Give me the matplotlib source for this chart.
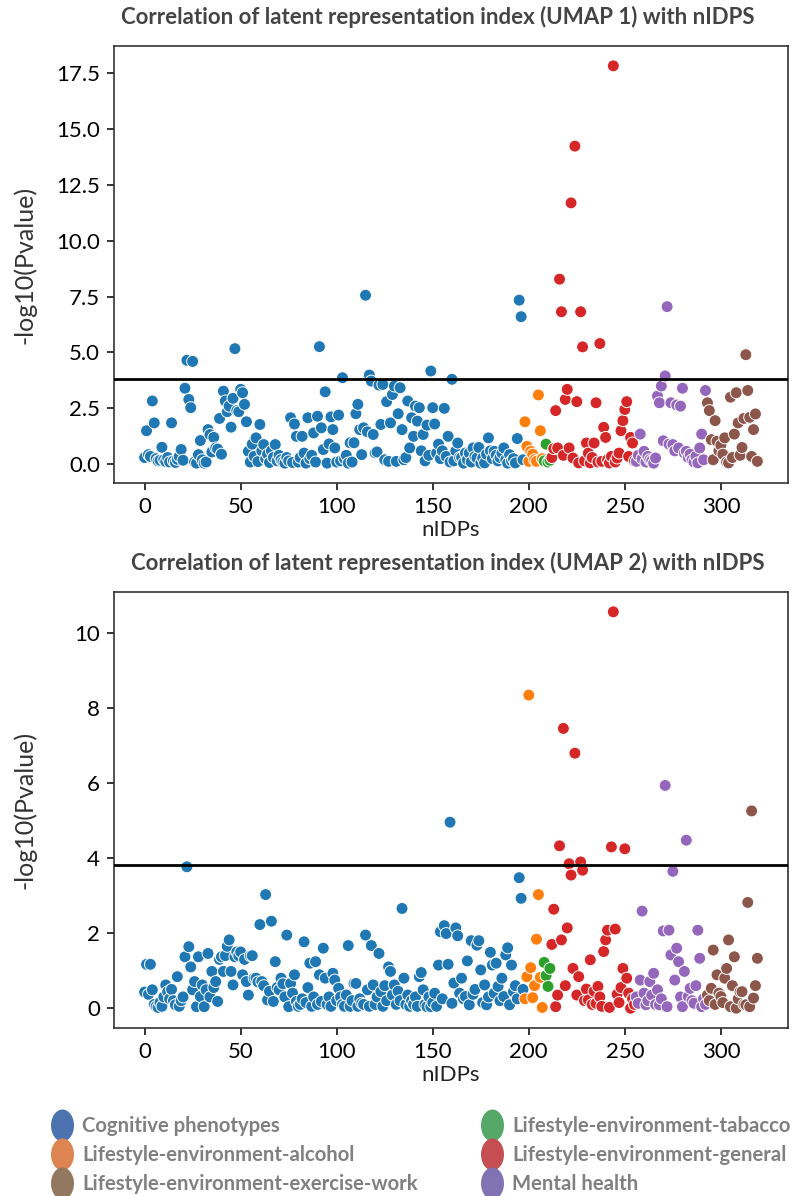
import numpy as np
import matplotlib
matplotlib.use("Agg")
import matplotlib.pyplot as plt
from matplotlib.path import Path
from matplotlib.transforms import Affine2D
from matplotlib.lines import Line2D

plt.rcParams['font.family'] = ['Lato', 'DejaVu Sans']

# ---------------- data ----------------
category_names = ["Cognitive phenotypes", "Lifestyle-environment-alcohol",
                  "Lifestyle-environment-tabacco", "Lifestyle-environment-general",
                  "Mental health", "Lifestyle-environment-exercise-work"]
category_counts = [198, 10, 4, 44, 37, 27]
scatter_colors = ["#1f77b4", "#ff7f0e", "#2ca02c", "#d62728", "#9467bd", "#8c564b"]

legend_labels = ["Cognitive phenotypes", "Lifestyle-environment-alcohol",
                 "Lifestyle-environment-exercise-work", "Lifestyle-environment-tabacco",
                 "Lifestyle-environment-general", "Mental health"]
legend_colors = ["#4C72B0", "#DD8452", "#937860", "#55A868", "#C44E52", "#8172B3"]

n_tests = 320

umap1_neglogp = [
    # cognitive 0-197
    0.30, 1.50, 0.43, 0.35, 2.83, 1.85, 0.25, 0.15, 0.18, 0.76,
    0.20, 0.12, 0.30, 0.10, 1.85, 0.15, 0.08, 0.22, 0.35, 0.66,
    0.18, 3.40, 4.65, 2.90, 2.53, 4.60, 0.10, 0.05, 0.43, 1.06,
    0.20, 0.05, 0.10, 1.55, 1.33, 0.55, 1.20, 0.73, 0.68, 2.05,
    0.45, 3.27, 2.83, 2.35, 2.60, 1.66, 2.95, 5.17, 2.40, 2.35,
    3.35, 3.20, 2.68, 1.90, 0.58, 0.10, 0.90, 0.35, 1.18, 0.12,
    1.78, 0.60, 0.88, 0.25, 0.45, 0.08, 0.60, 0.30, 0.88, 0.15,
    0.40, 0.20, 0.10, 0.05, 0.30, 0.15, 2.08, 0.08, 1.80, 1.25,
    0.10, 0.30, 1.25, 0.50, 0.05, 2.08, 0.25, 0.40, 1.40, 0.10,
    2.15, 5.26, 1.63, 0.66, 3.24, 0.05, 0.91, 2.12, 1.55, 0.73,
    0.10, 2.20, 0.15, 3.87, 0.25, 0.40, 0.05, 0.96, 0.10, 0.96,
    2.26, 2.68, 1.55, 0.43, 1.63, 7.56, 1.45, 3.99, 3.72, 1.33,
    0.51, 0.55, 3.54, 1.78, 3.57, 0.20, 2.80, 0.13, 1.85, 3.12,
    3.50, 0.13, 2.26, 3.42, 1.55, 0.20, 0.30, 2.83, 0.73, 2.08,
    1.25, 2.60, 1.93, 2.53, 0.60, 1.33, 0.15, 1.75, 0.40, 4.17,
    2.53, 1.80, 0.50, 0.90, 0.25, 0.60, 2.50, 0.35, 1.25, 0.10,
    3.80, 0.15, 0.60, 0.95, 0.30, 0.30, 0.05, 0.50, 0.20, 0.50,
    0.10, 0.73, 0.35, 0.28, 0.75, 0.05, 0.28, 0.06, 0.45, 1.18,
    0.60, 0.25, 0.58, 0.40, 0.15, 0.30, 0.50, 0.73, 0.20, 0.05,
    0.43, 0.15, 0.25, 0.06, 1.15, 7.34, 6.60, 0.20,
    # alcohol 198-207
    1.90, 0.80, 0.13, 0.58, 0.45, 0.20, 0.13, 3.10, 1.50, 0.25,
    # tabacco 208-211
    0.15, 0.90, 0.10, 0.18,
    # general 212-255
    0.30, 0.70, 2.40, 0.73, 8.28, 6.82, 0.40, 2.90, 3.35, 0.73,
    11.69, 0.28, 14.23, 2.80, 0.06, 6.82, 5.25, 0.15, 0.95, 0.50,
    0.06, 0.30, 0.95, 2.75, 0.10, 5.40, 0.13, 1.65, 1.20, 0.20,
    0.06, 0.35, 17.82, 0.10, 0.28, 0.50, 1.50, 1.95, 2.45, 2.80,
    0.35, 1.20, 0.95, 0.15,
    # mental health 256-292
    0.13, 0.40, 1.35, 0.25, 0.58, 0.10, 0.35, 0.20, 0.15, 0.05,
    0.28, 3.05, 2.75, 3.50, 1.05, 3.95, 7.05, 0.90, 2.75, 0.88,
    0.60, 2.65, 0.73, 2.60, 3.40, 0.50, 0.58, 0.30, 0.45, 0.20,
    0.10, 0.35, 0.06, 0.73, 1.35, 0.20, 3.30,
    # exercise-work 293-319
    2.75, 2.40, 1.10, 0.20, 1.95, 1.03, 0.60, 0.85, 0.45, 1.18,
    0.10, 0.06, 3.00, 0.30, 1.35, 3.20, 1.85, 0.40, 0.75, 2.05,
    4.90, 3.30, 2.10, 0.35, 1.55, 2.25, 0.13,
]

umap2_neglogp = [
    # cognitive 0-197
    0.43, 1.17, 0.37, 1.17, 0.49, 0.10, 0.05, 0.02, 0.15, 0.05,
    0.30, 0.62, 0.44, 0.25, 0.50, 0.20, 0.09, 0.84, 0.05, 0.20,
    0.30, 1.37, 3.77, 1.64, 1.10, 0.49, 0.71, 0.04, 1.37, 0.31,
    0.62, 0.04, 0.49, 1.46, 0.30, 0.98, 0.55, 0.71, 0.18, 1.30,
    1.37, 0.98, 1.40, 1.65, 1.82, 0.98, 0.62, 1.37, 1.50, 1.40,
    1.50, 0.89, 1.30, 0.71, 0.35, 1.40, 1.40, 0.80, 0.80, 0.70,
    2.23, 0.71, 0.60, 3.03, 0.22, 0.45, 2.32, 0.18, 1.24, 0.55,
    0.49, 0.80, 0.65, 0.30, 1.95, 0.04, 0.66, 0.40, 0.89, 0.18,
    0.05, 0.10, 0.25, 1.77, 0.15, 0.55, 1.20, 0.05, 0.30, 1.24,
    0.10, 0.89, 0.18, 1.60, 0.80, 0.10, 0.30, 0.05, 0.93, 0.75,
    0.20, 0.53, 0.30, 0.10, 0.05, 0.35, 1.67, 0.05, 0.20, 0.66,
    0.66, 0.05, 0.25, 0.13, 0.10, 1.95, 0.49, 0.05, 1.67, 0.62,
    0.10, 0.30, 1.46, 0.44, 0.05, 0.60, 0.20, 1.10, 0.98, 0.35,
    0.62, 0.10, 0.45, 0.20, 2.66, 0.80, 0.10, 0.35, 0.05, 0.20,
    0.10, 0.30, 0.05, 0.84, 0.95, 0.49, 0.10, 0.04, 0.30, 0.04,
    0.15, 0.40, 0.05, 1.15, 2.04, 0.25, 2.20, 1.99, 1.17, 4.96,
    0.13, 0.67, 2.14, 1.93, 0.40, 0.80, 0.25, 0.31, 1.26, 0.09,
    1.80, 0.37, 0.50, 1.68, 1.80, 1.02, 0.15, 0.62, 0.09, 0.30,
    1.49, 1.15, 0.40, 1.20, 0.58, 0.20, 0.80, 0.31, 1.42, 1.61,
    0.09, 1.15, 0.44, 0.60, 0.25, 3.48, 2.93, 0.50,
    # alcohol 198-207
    0.25, 0.84, 8.35, 1.08, 0.28, 0.60, 1.84, 3.03, 0.82, 0.02,
    # tabacco 208-211
    1.22, 0.87, 0.58, 1.06,
    # general 212-255
    1.70, 2.64, 0.04, 0.35, 4.33, 1.82, 7.46, 0.60, 2.14, 3.85,
    3.55, 1.06, 6.80, 0.35, 0.84, 3.90, 3.68, 0.20, 0.51, 0.22,
    1.29, 0.10, 0.45, 0.13, 0.58, 0.30, 0.05, 1.51, 1.82, 2.08,
    0.02, 4.30, 10.57, 2.11, 0.37, 0.15, 0.55, 1.06, 4.25, 0.80,
    0.40, 0.00, 0.25, 0.10,
    # mental health 256-292
    0.30, 0.13, 0.75, 2.59, 0.40, 0.09, 0.20, 0.71, 0.35, 0.93,
    0.10, 0.49, 0.09, 0.25, 2.06, 5.94, 0.04, 2.08, 1.42, 3.65,
    0.75, 1.60, 1.24, 0.30, 0.04, 0.98, 4.48, 0.31, 0.53, 0.20,
    0.13, 0.60, 2.08, 1.33, 0.04, 0.25, 0.10,
    # exercise-work 293-319
    0.35, 0.20, 0.53, 1.55, 0.10, 0.89, 0.40, 0.31, 0.15, 0.80,
    1.06, 1.82, 0.04, 0.60, 1.37, 0.00, 0.25, 0.44, 0.44, 0.10,
    0.09, 2.82, 0.04, 5.26, 0.27, 0.60, 1.33,
]

titles = ["Correlation of latent representation index (UMAP 1) with nIDPS",
          "Correlation of latent representation index (UMAP 2) with nIDPS"]
yticks_list = [[0, 2.5, 5, 7.5, 10, 12.5, 15, 17.5], [0, 2, 4, 6, 8, 10]]
yticklabels_list = [["0.0", "2.5", "5.0", "7.5", "10.0", "12.5", "15.0", "17.5"],
                    ["0", "2", "4", "6", "8", "10"]]
xticks = [0, 50, 100, 150, 200, 250, 300]

# ---------------- figure ----------------
W, H = 795, 1196
fig = plt.figure(figsize=(W / 100, H / 100), dpi=100)

point_colors = []
for c, n in zip(scatter_colors, category_counts):
    point_colors += [c] * n
threshold = -np.log10(0.05 / n_tests)

axes_boxes = [(114, 46, 788, 483), (114, 592, 788, 1028)]
title_pos = [(438, 17), (448, 563)]

for k, (vals, box) in enumerate(zip([umap1_neglogp, umap2_neglogp], axes_boxes)):
    l, t, r, b = box
    ax = fig.add_axes([l / W, 1 - b / H, (r - l) / W, (b - t) / H])
    x = np.arange(len(vals))
    ax.scatter(x, vals, s=74, c=point_colors, edgecolors="white", linewidths=0.7, zorder=3)
    ax.axhline(threshold, color="black", lw=2.0, zorder=4)
    ax.margins(x=0.05, y=0.05)
    ax.set_xticks(xticks)
    ax.set_xticklabels([str(v) for v in xticks])
    ax.set_yticks(yticks_list[k])
    ax.set_yticklabels(yticklabels_list[k])
    ax.tick_params(axis="both", labelsize=16, length=5, width=1.4, color="#333333",
                   labelcolor="black", pad=5)
    for sp in ax.spines.values():
        sp.set_linewidth(1.2)
        sp.set_color("#333333")
    ax.set_xlabel("nIDPs", fontsize=16, color="#222222", labelpad=2)
    ax.set_ylabel("-log10(Pvalue)", fontsize=18, color="#333333")
    ax.yaxis.set_label_coords(-0.115, 0.5)
    tx, ty = title_pos[k]
    fig.text(tx / W, 1 - ty / H, titles[k], ha="center", va="center",
             fontsize=16, fontweight="bold", color="#444444")

# ---------------- legend ----------------
ellipse = Path.unit_circle().transformed(Affine2D().scale(0.72, 1.0))
handles = [Line2D([], [], marker=ellipse, linestyle="", markersize=23,
                  markerfacecolor=c, markeredgewidth=0) for c in legend_colors]
legend_cols = [(slice(0, 3), 52), (slice(3, 6), 482)]
for sl, x0 in legend_cols:
    leg = fig.legend(handles[sl], legend_labels[sl], loc="upper left",
                     bbox_to_anchor=(x0 / W, 1 - 1116 / H), frameon=False,
                     borderpad=0, borderaxespad=0, handlelength=1.0,
                     handletextpad=0.5, labelspacing=0.45,
                     prop={"size": 14.6, "weight": "bold"})
    for txt in leg.get_texts():
        txt.set_color("#808080")

fig.savefig("out.png", dpi=100)
